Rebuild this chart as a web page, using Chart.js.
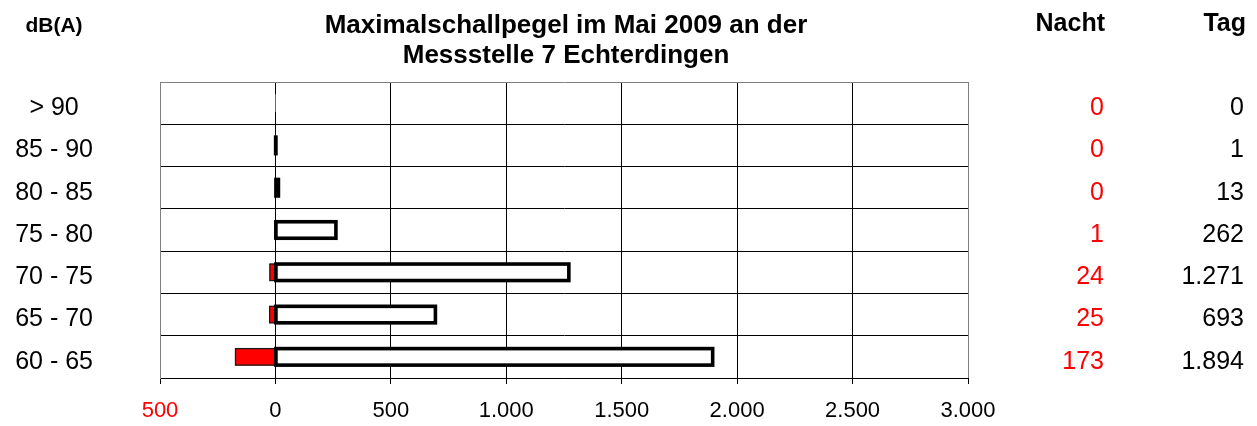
<!DOCTYPE html>
<html>
<head>
<meta charset="utf-8">
<script src="https://cdn.jsdelivr.net/npm/chart.js@4/dist/chart.umd.min.js"></script>
<style>
html,body{margin:0;padding:0;background:#fff;}
#wrap{position:relative;width:1257px;height:426px;}
</style>
</head>
<body>
<div id="wrap"><canvas id="c" width="1257" height="426"></canvas></div>
<script>
// ---- data ----
const categories = ['> 90', '85 - 90', '80 - 85', '75 - 80', '70 - 75', '65 - 70', '60 - 65'];
const nachtValues = [0, 0, 0, 1, 24, 25, 173];
const tagValues = [0, 1, 13, 262, 1271, 693, 1894];
const xTicks = [-500, 0, 500, 1000, 1500, 2000, 2500, 3000];
const titleLines = ['Maximalschallpegel im Mai 2009 an der', 'Messstelle 7 Echterdingen'];
const unitLabel = 'dB(A)';
const colHeaders = ['Nacht', 'Tag'];

const FONT = 'Arial, "Liberation Sans", sans-serif';
const fmt = v => String(Math.abs(v)).replace(/\B(?=(\d{3})+(?!\d))/g, '.');

const textPlugin = {
  id: 'texts',
  afterDatasetsDraw(chart) {
    const ctx = chart.ctx;
    // outline strokes drawn Excel-style (centered on edges)
    const strokes = [{ds: 0, w: 1.3, c: '#1a1a1a', vals: nachtValues}, {ds: 1, w: 3.6, c: '#000', vals: tagValues}];
    strokes.forEach(s => {
      const meta = chart.getDatasetMeta(s.ds);
      meta.data.forEach((el, i) => {
        if (!s.vals[i]) return;
        const p = el.getProps(['x', 'y', 'base', 'height'], true);
        const l = Math.min(p.x, p.base), r = Math.max(p.x, p.base);
        ctx.save();
        ctx.lineWidth = s.w;
        ctx.strokeStyle = s.c;
        ctx.lineJoin = 'miter';
        ctx.strokeRect(l, p.y - p.height / 2, r - l, p.height);
        ctx.restore();
      });
    });
  },
  afterDraw(chart) {
    const ctx = chart.ctx;
    const y = chart.scales.y;
    ctx.save();
    // title
    ctx.fillStyle = '#000';
    ctx.textAlign = 'center';
    ctx.textBaseline = 'alphabetic';
    ctx.font = 'bold 26px ' + FONT;
    ctx.fillText(titleLines[0], 566, 33);
    ctx.fillText(titleLines[1], 566, 63);
    // unit
    ctx.font = 'bold 21px ' + FONT;
    ctx.fillText(unitLabel, 54, 32);
    // column headers
    ctx.textAlign = 'right';
    ctx.font = 'bold 25px ' + FONT;
    ctx.fillText(colHeaders[0], 1105, 31);
    ctx.fillText(colHeaders[1], 1246, 31);
    // column values
    ctx.font = '25px ' + FONT;
    ctx.textBaseline = 'middle';
    categories.forEach((c, i) => {
      const py = y.getPixelForValue(i) + 5;
      ctx.fillStyle = '#ff0000';
      ctx.fillText(fmt(nachtValues[i]), 1104, py);
      ctx.fillStyle = '#000';
      ctx.fillText(fmt(tagValues[i]), 1244, py);
    });
    ctx.restore();
  }
};

new Chart(document.getElementById('c'), {
  type: 'bar',
  data: {
    labels: categories,
    datasets: [
      {label: 'Nacht', data: nachtValues.map(v => -v), backgroundColor: '#ff0000', borderWidth: 0, barThickness: 16.5},
      {label: 'Tag', data: tagValues, backgroundColor: '#ffffff', borderWidth: 0, barThickness: 16.5}
    ]
  },
  options: {
    indexAxis: 'y',
    responsive: false,
    animation: false,
    layout: {padding: {top: 82, right: 289, left: 0, bottom: 0}},
    plugins: {legend: {display: false}, title: {display: false}, tooltip: {enabled: false}},
    scales: {
      x: {
        type: 'linear',
        stacked: true,
        min: -500,
        max: 3000,
        afterBuildTicks: s => { s.ticks = xTicks.map(v => ({value: v})); },
        afterFit: s => { s.height = 48; s.paddingLeft = 0; s.paddingRight = 0; },
        grid: {
          color: c => (c.tick && (c.tick.value === -500 || c.tick.value === 3000)) ? '#808080' : '#000',
          lineWidth: 1,
          drawTicks: true,
          tickLength: 6,
          tickColor: '#000'
        },
        border: {color: '#000', width: 1},
        ticks: {
          font: {family: FONT, size: 22},
          color: c => c.tick.value < 0 ? '#ff0000' : '#000',
          padding: 14,
          maxRotation: 0,
          autoSkip: false,
          callback: v => fmt(v)
        }
      },
      y: {
        stacked: true,
        afterFit: s => { s.width = 160; s.paddingTop = 0; s.paddingBottom = 0; },
        grid: {
          color: c => c.index === 0 ? '#808080' : '#000',
          lineWidth: 1,
          drawTicks: false,
          offset: true
        },
        border: {color: '#808080', width: 1},
        ticks: {
          font: {family: FONT, size: 25},
          color: '#000',
          crossAlign: 'center',
          padding: 67,
          labelOffset: 5
        }
      }
    }
  },
  plugins: [textPlugin]
});
</script>
</body>
</html>
